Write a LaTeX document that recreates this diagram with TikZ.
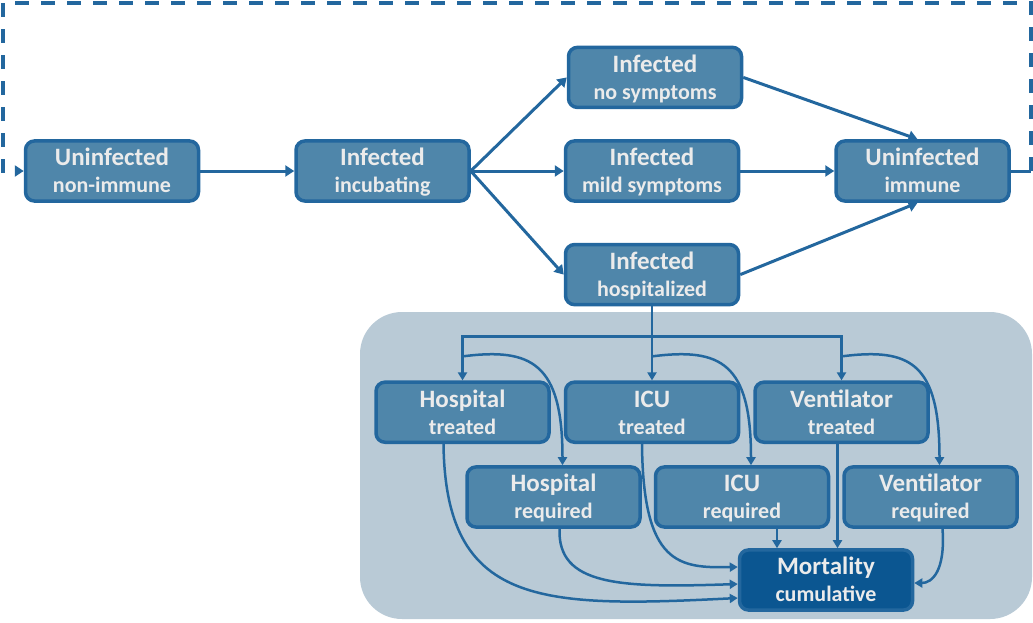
\documentclass[tikz,border=0pt]{standalone}
\usepackage{fontspec}
\setmainfont{Carlito}
\usepackage{tikz}
\usetikzlibrary{positioning,arrows.meta}

\definecolor{boxfill}{HTML}{4F86AA}
\definecolor{boxline}{HTML}{23679E}
\definecolor{boxtext}{HTML}{EBEBEB}
\definecolor{panelfill}{HTML}{B9CAD6}
\definecolor{mortfill}{HTML}{0B5691}

\newcommand{\twoline}[2]{\rule{0pt}{25pt}#1\\{\fontsize{22}{27}\selectfont\strut #2}}

\begin{document}
\begin{tikzpicture}[
    x=1pt, y=-1pt,
    state/.style={rectangle, draw=boxline, fill=boxfill, line width=3.5pt, rounded corners=9pt, minimum width=173pt, minimum height=58pt, inner sep=0pt, align=center, text=boxtext, font=\bfseries\fontsize{25}{27}\selectfont},
    final/.style={state, fill=mortfill},
    arrow/.style={-{Triangle[length=9pt,width=11pt]}, line width=3pt, draw=boxline},
    link/.style={-{Triangle[length=8pt,width=9pt]}, line width=2.5pt, draw=boxline},
    returnpath/.style={-{Triangle[length=9pt,width=11pt]}, line width=4pt, draw=boxline, dash pattern=on 14pt off 12pt}
]
\useasboundingbox (0,0) rectangle (1033,622);

% Hospital panel
\fill[panelfill, rounded corners=42pt] (360,312) rectangle (1032,619);

% Infection chain
\node[state] (nonimm) at (112,171) {\twoline{Uninfected}{non-immune}};
\node[state, right=94pt of nonimm] (incub) {\twoline{Infected}{incubating}};
\node[state, right=93pt of incub] (mild) {\twoline{Infected}{mild symptoms}};
\node[state, above=30pt of mild, xshift=3pt] (nosym) {\twoline{Infected}{no symptoms}};
\node[state, below=40pt of mild] (hosp) {\twoline{Infected}{hospitalized}};
\node[state, right=94pt of mild] (immune) {\twoline{Uninfected}{immune}};

% Treated row
\node[state, below=74pt of hosp] (ictreat) {\twoline{ICU}{treated}};
\node[state, left=13pt of ictreat] (htreat) {\twoline{Hospital}{treated}};
\node[state, right=13pt of ictreat] (vtreat) {\twoline{Ventilator}{treated}};

% Required row
\node[state] (icreq) at (742,497) {\twoline{ICU}{required}};
\node[state, left=12pt of icreq] (hreq) {\twoline{Hospital}{required}};
\node[state, right=12pt of icreq] (vreq) {\twoline{Ventilator}{required}};

% Outcome
\node[final] (mort) at (826,580) {\twoline{Mortality}{cumulative}};

% Arrows
\draw[arrow] (nonimm) -- (incub);
\draw[arrow] (incub.east) -- (nosym.west);
\draw[arrow] (incub.east) -- (mild.west);
\draw[arrow] (incub.east) -- (hosp.west);
\draw[arrow] (nosym.east) -- ([xshift=-5pt]immune.north);
\draw[arrow] (mild) -- (immune);
\draw[arrow] (hosp.east) -- ([xshift=-5pt]immune.south);

% Return to non-immune
\coordinate[right=20pt of immune] (loopR);
\coordinate (loopTL) at (3,3);
\draw[line width=3pt, draw=boxline] (immune) -- (loopR);
\draw[returnpath] (loopR) |- (loopTL) |- (nonimm.west);

% Hospital branches
\coordinate[below=30pt of hosp.south] (bus);
\draw[link] (hosp.south) -- (ictreat.north);
\draw[link] (bus) -| (htreat.north);
\draw[link] (bus) -| (vtreat.north);
\draw[link] ([yshift=24pt]htreat.north) .. controls +(69,-9) and +(0,-102) .. ([xshift=9pt]hreq.north);
\draw[link] ([yshift=24pt]ictreat.north) .. controls +(69,-9) and +(0,-102) .. ([xshift=9pt]icreq.north);
\draw[link] ([yshift=24pt]vtreat.north) .. controls +(69,-9) and +(0,-102) .. ([xshift=9pt]vreq.north);

% Mortality
\draw[link] ([xshift=-19pt]htreat.south) .. controls +(2,162) and +(-198,10) .. ([yshift=-18pt]mort.west);
\draw[link] ([xshift=6pt]hreq.south) .. controls +(-2,57) and +(-118,4) .. ([yshift=-4pt]mort.west);
\draw[link] ([xshift=-10pt]ictreat.south) .. controls +(1,122) and +(-58,1) .. ([yshift=13pt]mort.west);
\draw[link] ([xshift=35pt]icreq.south) coordinate (icdrop) -- (icdrop |- mort.north);
\draw[link] ([xshift=-4pt]vtreat.south) coordinate (vdrop) -- (vdrop |- mort.north);
\draw[link] ([xshift=12pt]vreq.south) .. controls +(3,42) and +(18,0) .. ([yshift=-3pt]mort.east);

\end{tikzpicture}
\end{document}
